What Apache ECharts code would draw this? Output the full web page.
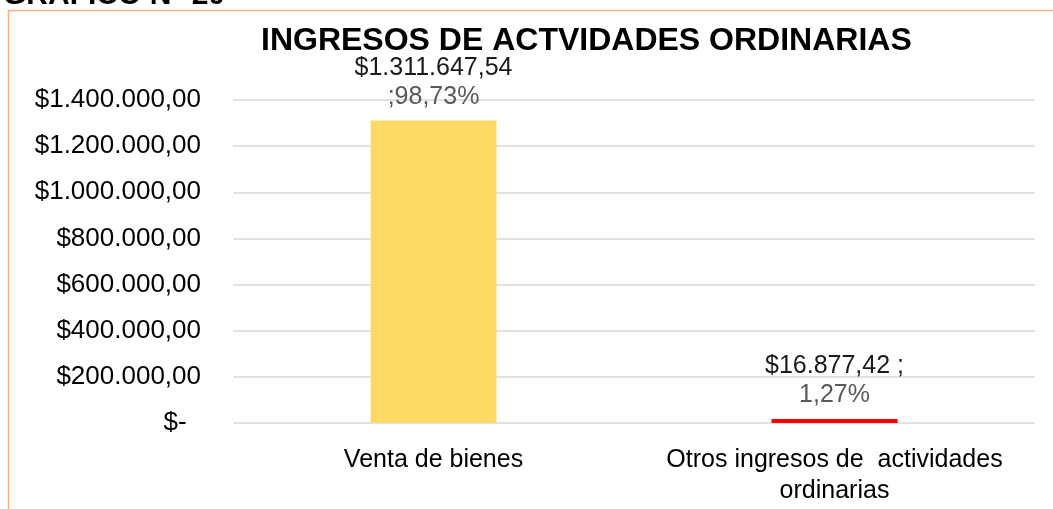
<!DOCTYPE html>
<html>
<head>
<meta charset="utf-8">
<script src="https://cdn.jsdelivr.net/npm/echarts@6/dist/echarts.min.js"></script>
<style>
  html, body { margin: 0; padding: 0; background: #fff; }
  #main { width: 1053px; height: 509px; }
</style>
</head>
<body>
<div id="main"></div>
<script>
var categorias = ['Venta de bienes', 'Otros ingresos de  actividades\nordinarias'];
var valores = [1311647.54, 16877.42];
var porcentajes = [98.73, 1.27];

var colores = ['#ffd966', '#ff0000'];
var fuente = "'Liberation Sans', Arial, sans-serif";

function pesos(v) {
    var partes = v.toFixed(2).split('.');
    return '$' + partes[0].replace(/\B(?=(\d{3})+(?!\d))/g, '.') + ',' + partes[1];
}

var myChart = echarts.init(document.getElementById('main'));
myChart.setOption(option = {
    animation: false,
    textStyle: { fontFamily: fuente },
    title: {
        text: 'INGRESOS DE ACTVIDADES ORDINARIAS',
        left: 256,
        top: 20,
        textStyle: { fontSize: 32, fontWeight: 'bold', color: '#000', fontFamily: fuente }
    },
    graphic: [{
        type: 'rect',
        shape: { x: 8.5, y: 10.5, width: 1200, height: 700 },
        style: { fill: 'none', stroke: '#f4b183', lineWidth: 1.5 },
        silent: true
    }, {
        type: 'text',
        left: 3,
        top: -19,
        style: { text: 'GRAFICO N° 20', font: "bold 30px 'Liberation Sans', Arial", fill: '#000' }
    }],
    grid: { left: 233, right: 18, top: 100, bottom: 86 },
    xAxis: {
        type: 'category',
        data: categorias,
        axisLine: { show: false },
        axisTick: { show: false },
        axisLabel: {
            interval: 0,
            hideOverlap: false,
            margin: 22,
            fontSize: 25,
            lineHeight: 31,
            color: '#000',
            fontFamily: fuente
        }
    },
    yAxis: {
        type: 'value',
        min: 0,
        max: 1400000,
        interval: 200000,
        axisLabel: {
            margin: 32,
            fontSize: 26,
            color: '#000',
            fontFamily: fuente,
            formatter: function (v) {
                return v === 0 ? '$-  ' : pesos(v);
            }
        },
        splitLine: { lineStyle: { color: '#d9d9d9', width: 1.5 } }
    },
    series: {
        name: 'Ingresos',
        type: 'bar',
        data: valores,
        barWidth: 126,
        itemStyle: {
            color: function (p) { return colores[p.dataIndex]; }
        },
        label: {
            show: true,
            position: 'top',
            distance: 9,
            formatter: function (p) {
                var pct = porcentajes[p.dataIndex].toFixed(2).replace('.', ',') + '%';
                if (p.dataIndex === 0) {
                    return '{v|' + pesos(p.value) + '}\n{p|;' + pct + '}';
                }
                return '{v|' + pesos(p.value) + ' ;}\n{p|' + pct + '}';
            },
            rich: {
                v: { fontSize: 25, lineHeight: 29, color: '#1a1a1a', fontFamily: fuente },
                p: { fontSize: 25, lineHeight: 29, color: '#595959', fontFamily: fuente }
            }
        }
    }
});
</script>
</body>
</html>
